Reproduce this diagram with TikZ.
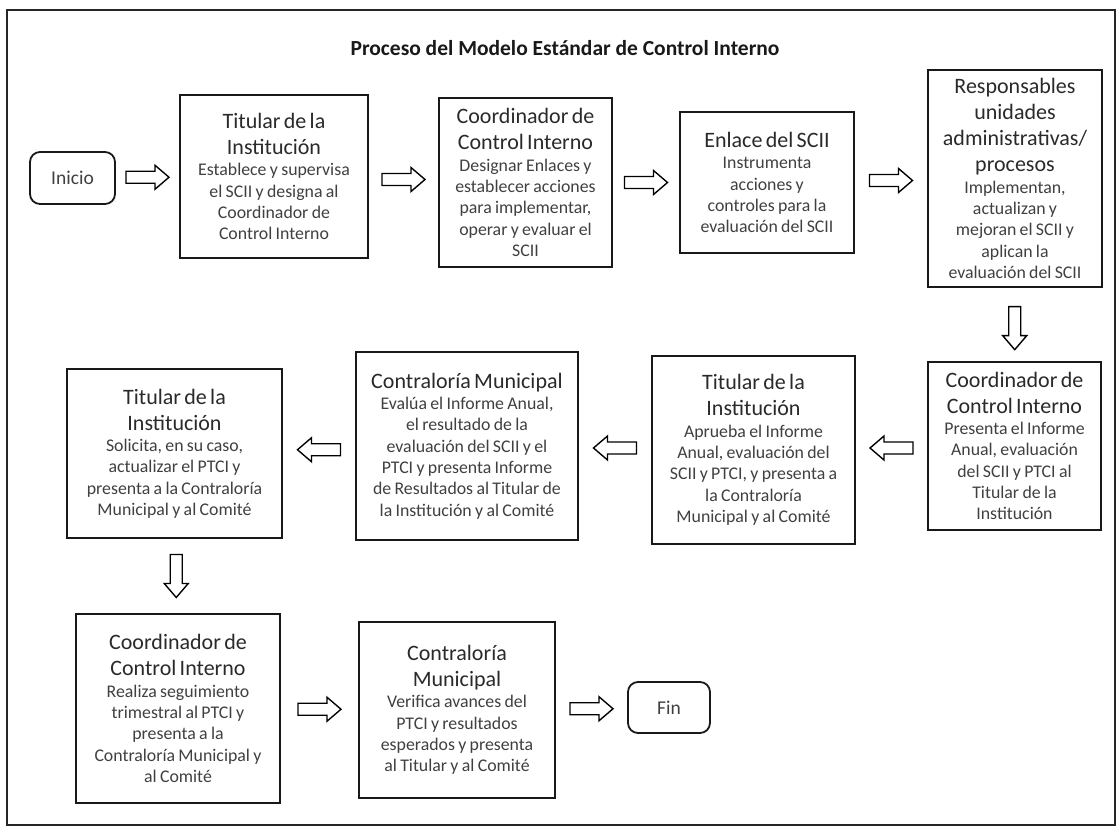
\documentclass[tikz,border=0pt]{standalone}
\usepackage{fontspec}
\setmainfont{Carlito}
\usetikzlibrary{calc}
\definecolor{hdcol}{HTML}{2A2A2A}
\definecolor{bdcol}{HTML}{404040}
\newcommand{\boxhead}[1]{{\fontsize{22}{26}\selectfont\color{hdcol}#1\par}}
\newcommand{\boxbody}[1]{{\fontsize{17.8}{21.3}\selectfont\color{bdcol}#1\par}}
\begin{document}
\begin{tikzpicture}[x=1pt,y=-1pt,
  box/.style={draw=black!90, line width=1.8pt, fill=white, align=center, inner sep=0pt},
  term/.style={draw=black!90, line width=1.8pt, rounded corners=10pt, inner sep=0pt,
    font=\fontsize{19.5}{23}\selectfont, text=bdcol},
  barrow/.pic={\draw[line width=1.4pt, fill=white, line join=miter]
    (-21.5,-6) -- (7.5,-6) -- (7.5,-12) -- (21.5,0) -- (7.5,12) -- (7.5,6) -- (-21.5,6) -- cycle;}
]
\useasboundingbox (0,0) rectangle (1120,829);
\draw[line width=1.5pt, black!85] (7,10) rectangle (1115,825);

\node[font=\bfseries\fontsize{21.5}{25}\selectfont, text=black!90] (title) at (565,48)
  {Proceso del Modelo Estándar de Control Interno};

% row 1
\node[term, minimum width=85, minimum height=52] (ini) at (72.5,178) {Inicio};
\node[box, minimum width=188, minimum height=163, text width=180] (t1) at (274,176.5)
  {\boxhead{Titular de la\\Institución}\boxbody{Establece y supervisa\\el SCII y designa al\\Coordinador de\\Control Interno}};
\node[box, minimum width=173, minimum height=169, text width=165] (c1) at (525.5,182.5)
  {\boxhead{Coordinador de\\Control Interno}\boxbody{Designar Enlaces y\\establecer acciones\\para implementar,\\operar y evaluar el\\SCII}};
\node[box, minimum width=174, minimum height=141, text width=166] (e1) at (767,182.5)
  {\boxhead{Enlace del SCII}\boxbody{Instrumenta\\acciones y\\controles para la\\evaluación del SCII}};
\node[box, minimum width=174, minimum height=217, text width=166] (r1) at (1015,178.5)
  {\boxhead{Responsables\\unidades\\administrativas/\\procesos}\boxbody{Implementan,\\actualizan y\\mejoran el SCII y\\aplican la\\evaluación del SCII}};

% row 2
\node[box, minimum width=173, minimum height=168, text width=165] (c2) at (1014.5,446)
  {\boxhead{Coordinador de\\Control Interno}\boxbody{Presenta el Informe\\Anual, evaluación\\del SCII y PTCI al\\Titular de la\\Institución}};
\node[box, minimum width=203, minimum height=188, text width=195] (t2) at (753.5,450)
  {\boxhead{Titular de la\\Institución}\boxbody{Aprueba el Informe\\Anual, evaluación del\\SCII y PTCI, y presenta a\\la Contraloría\\Municipal y al Comité}};
\node[box, minimum width=222, minimum height=188, text width=214] (m1) at (467,446)
  {\boxhead{Contraloría Municipal}\boxbody{Evalúa el Informe Anual,\\el resultado de la\\evaluación del SCII y el\\PTCI y presenta Informe\\de Resultados al Titular de\\la Institución y al Comité}};
\node[box, minimum width=215, minimum height=169, text width=207] (t3) at (174.5,453.5)
  {\boxhead{Titular de la\\Institución}\boxbody{Solicita, en su caso,\\actualizar el PTCI y\\presenta a la Contraloría\\Municipal y al Comité}};

% row 3
\node[box, minimum width=204, minimum height=189, text width=196] (c3) at (178,708.5)
  {\boxhead{Coordinador de\\Control Interno}\boxbody{Realiza seguimiento\\trimestral al PTCI y\\presenta a la\\Contraloría Municipal y\\al Comité}};
\node[box, minimum width=196, minimum height=176, text width=188] (m2) at (457,710)
  {\boxhead{Contraloría\\Municipal}\boxbody{Verifica avances del\\PTCI y resultados\\esperados y presenta\\al Titular y al Comité}};
\node[term, minimum width=82, minimum height=51] (fin) at (669,707.5) {Fin};

% block arrows between named nodes
\pic at ($(ini.east)!0.5!(t1.west)$) {barrow};
\pic at ($(t1.east)!0.5!(c1.west)$) {barrow};
\pic at ($(c1.east)!0.5!(e1.west)$) {barrow};
\pic at ($(e1.east)!0.5!(r1.west)$) {barrow};
\pic[rotate=-90] at ($(r1.south)!0.55!(c2.north)$) {barrow};
\pic[rotate=180] at ($(c2.west)!0.5!(t2.east)$) {barrow};
\pic[rotate=180] at ($(t2.west)!0.5!(m1.east)$) {barrow};
\pic[rotate=180] at ($(m1.west)!0.5!(t3.east)$) {barrow};
\pic[rotate=-90] at ($(t3.south)!0.5!(c3.north)$) {barrow};
\pic at ($(c3.east)!0.5!(m2.west)$) {barrow};
\pic at ($(m2.east)!0.5!(fin.west)$) {barrow};
\end{tikzpicture}
\end{document}
